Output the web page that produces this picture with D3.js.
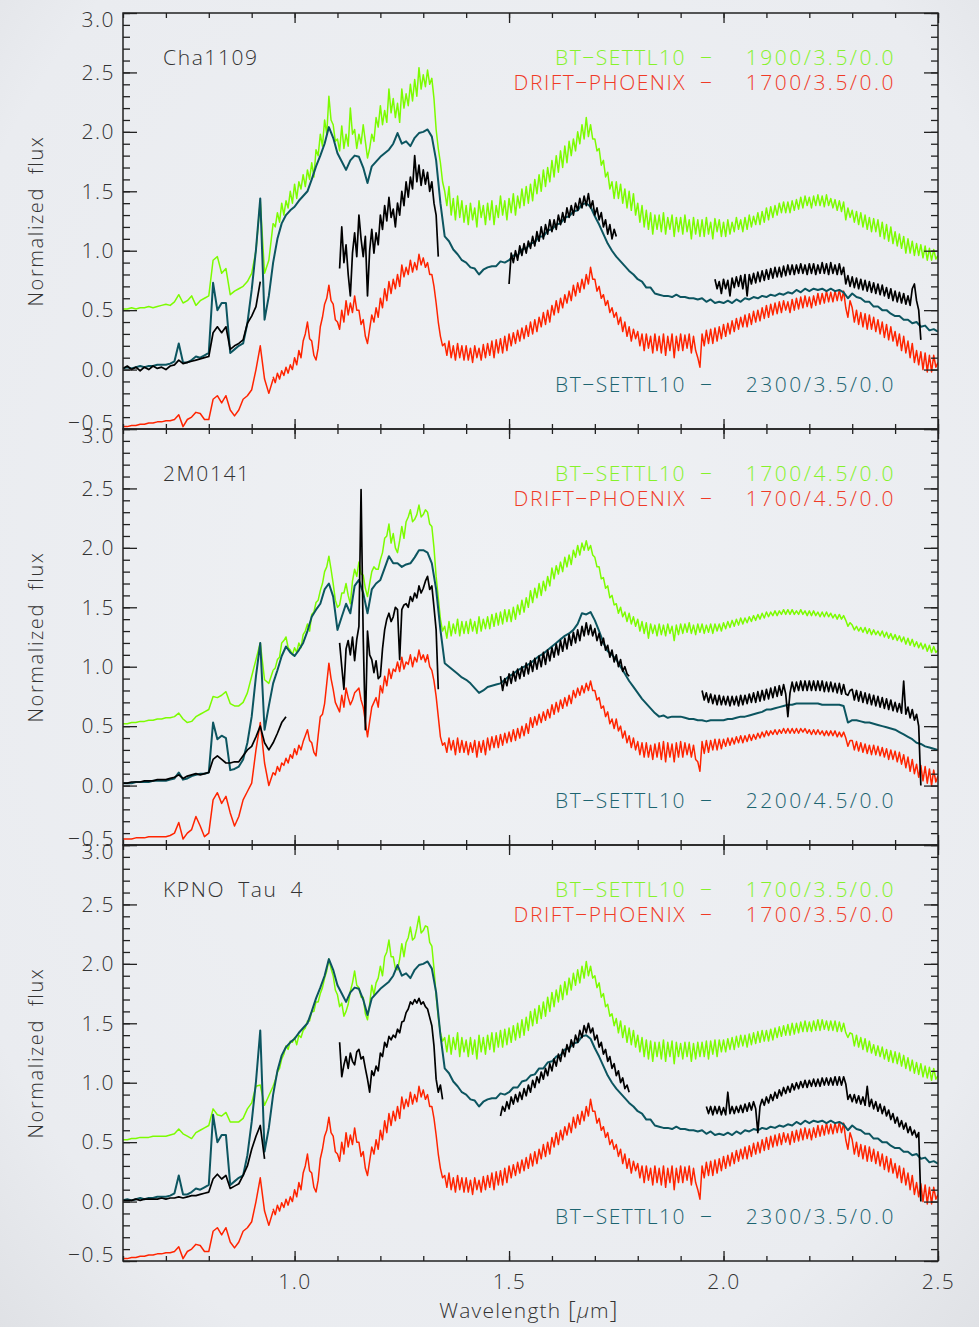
<!DOCTYPE html>
<html>
<head>
<meta charset="utf-8">
<script src="https://cdn.jsdelivr.net/npm/d3@7"></script>
<style>
  html, body { margin: 0; padding: 0; background: #eceef1; }
  svg { display: block; }
  text { font-family: "Open Sans", "DejaVu Sans", sans-serif; font-weight: 300; }
</style>
</head>
<body>
<svg id="chart" width="979" height="1327"></svg>
<script>
// ---------------------------------------------------------------
// Spectra are stored as segments: [start µm, step µm, flux, flux, ...]
// ---------------------------------------------------------------

// BT-SETTL10 1900/3.5/0.0
const btSettl1900_35 = [
  [0.60, 0.01,
   0.51,0.51,0.52,0.51,0.52,0.52,0.53,0.52,0.53,0.54,
   0.55,0.54,0.57,0.63,0.56,0.58,0.62,0.54,0.58,0.60,
   0.62,0.92,0.95,0.81,0.85,0.63,0.66,0.68,0.70,0.74,
   0.81,1.00,1.42,0.81,0.92,1.23],
  [0.95, 0.005,
   1.23,1.20,1.32,1.24,1.40,1.30,1.42,1.36,1.50,1.40,
   1.56,1.44,1.58,1.52,1.64,1.54,1.68,1.60,1.74,1.62,
   1.85,1.80,1.98,1.88,2.10,1.98,2.30,2.10,2.06,1.92,
   1.94,1.84,2.05,1.86,1.98,1.88,2.20,1.98,2.02,1.86,
   1.98,1.90,2.06,1.92,1.78,1.86,1.98,1.92,2.12,2.04,
   2.22,2.06,2.18,2.08,2.36,2.16,2.28,2.12,2.24,2.08,
   2.36,2.20,2.32,2.22,2.40,2.26,2.44,2.30,2.54,2.36,
   2.48,2.38,2.52,2.40,2.45,2.28,2.02,1.86,1.74,1.58,
   1.50,1.38,1.54,1.30,1.44,1.26,1.46,1.28,1.42,1.24,
   1.38,1.22,1.40,1.26,1.36,1.20,1.42,1.28,1.38,1.22,
   1.40,1.26,1.42,1.22,1.38,1.28,1.46,1.30,1.42,1.26,
   1.44,1.32,1.48,1.30,1.46,1.36,1.52,1.38,1.54,1.40,
   1.56,1.42,1.60,1.48,1.64,1.50,1.68,1.54,1.70,1.58,
   1.76,1.62,1.80,1.66,1.84,1.70,1.88,1.74,1.92,1.80,
   1.94,1.84,2.00,1.90,2.06,1.94,2.12,1.96,2.06,1.94,
   1.94,1.84,1.86,1.72,1.76,1.62,1.66,1.52,1.58,1.44,
   1.58,1.44,1.56,1.40,1.52,1.36,1.50,1.34,1.48,1.30,
   1.40,1.24,1.38,1.20,1.34,1.18,1.32,1.14,1.30,1.18,
   1.30,1.16,1.32,1.14,1.28,1.18,1.30,1.12,1.28,1.16,
   1.28,1.14,1.30,1.16,1.26,1.10,1.28,1.14,1.26,1.12,
   1.26,1.12,1.28,1.14,1.24,1.10,1.27,1.16,1.26,1.12,
   1.24,1.12,1.26,1.14,1.24,1.16,1.28,1.18,1.26,1.16,
   1.28,1.18,1.30,1.20,1.29,1.22,1.32,1.22,1.33,1.24,
   1.36,1.26,1.37,1.28,1.38,1.30,1.40,1.32,1.41,1.32,
   1.41,1.32,1.42,1.34,1.43,1.35,1.45,1.36,1.46,1.38,
   1.45,1.36,1.46,1.38,1.47,1.38,1.46,1.37,1.47,1.38,
   1.44,1.36,1.43,1.34,1.42,1.33,1.41,1.26,1.36,1.28,
   1.34,1.24,1.33,1.22,1.32,1.20,1.30,1.18,1.28,1.16,
   1.27,1.16,1.26,1.12,1.24,1.10,1.22,1.08,1.20,1.06,
   1.16,1.04,1.14,1.02,1.12,0.98,1.10,0.98,1.08,0.96,
   1.06,0.96,1.05,0.94,1.04,0.92,1.02,0.92,1.01,0.93,
   0.96]
];

// BT-SETTL10 1700/4.5/0.0
const btSettl1700_45 = [
  [0.60, 0.01,
   0.52,0.52,0.53,0.53,0.54,0.54,0.55,0.55,0.56,0.56,
   0.57,0.57,0.58,0.61,0.56,0.53,0.54,0.58,0.60,0.62,
   0.64,0.75,0.74,0.76,0.79,0.69,0.67,0.67,0.70,0.78,
   0.92,1.06,1.20,0.89,0.86,0.97],
  [0.95, 0.005,
   0.97,0.99,1.06,1.08,1.20,1.22,1.25,1.16,1.14,1.10,
   1.16,1.12,1.20,1.16,1.27,1.30,1.36,1.30,1.44,1.46,
   1.54,1.56,1.64,1.70,1.80,1.84,1.93,1.82,1.70,1.56,
   1.50,1.52,1.62,1.62,1.70,1.60,1.53,1.72,1.82,1.76,
   1.88,1.78,1.77,1.66,1.59,1.70,1.80,1.84,1.82,1.82,
   1.90,1.96,2.08,2.10,2.20,2.04,2.12,2.00,1.96,2.06,
   2.18,2.08,2.22,2.26,2.32,2.22,2.24,2.28,2.36,2.26,
   2.28,2.32,2.30,2.20,2.18,2.00,1.76,1.58,1.40,1.30,
   1.34,1.24,1.38,1.26,1.36,1.28,1.40,1.26,1.38,1.28,
   1.38,1.28,1.40,1.30,1.38,1.28,1.42,1.30,1.40,1.32,
   1.42,1.32,1.44,1.34,1.45,1.35,1.46,1.36,1.48,1.38,
   1.48,1.38,1.50,1.40,1.52,1.44,1.56,1.46,1.58,1.50,
   1.64,1.54,1.66,1.58,1.70,1.60,1.72,1.64,1.76,1.68,
   1.83,1.74,1.85,1.78,1.88,1.80,1.92,1.84,1.94,1.86,
   1.98,1.92,2.02,1.94,2.04,1.98,2.06,1.98,2.02,1.94,
   1.92,1.84,1.84,1.74,1.75,1.66,1.68,1.58,1.60,1.52,
   1.53,1.45,1.50,1.42,1.46,1.38,1.45,1.36,1.42,1.34,
   1.40,1.30,1.38,1.28,1.37,1.24,1.36,1.28,1.35,1.26,
   1.36,1.27,1.35,1.26,1.36,1.28,1.34,1.22,1.35,1.27,
   1.36,1.28,1.36,1.29,1.37,1.28,1.35,1.27,1.36,1.29,
   1.36,1.28,1.35,1.29,1.36,1.28,1.36,1.30,1.36,1.30,
   1.37,1.32,1.38,1.33,1.39,1.34,1.40,1.35,1.41,1.36,
   1.41,1.37,1.42,1.38,1.43,1.39,1.44,1.40,1.45,1.41,
   1.46,1.42,1.46,1.43,1.47,1.43,1.47,1.44,1.48,1.44,
   1.48,1.44,1.48,1.44,1.47,1.44,1.48,1.44,1.47,1.43,
   1.47,1.43,1.47,1.43,1.46,1.42,1.46,1.42,1.46,1.42,
   1.45,1.41,1.44,1.40,1.44,1.40,1.43,1.39,1.34,1.37,
   1.35,1.31,1.34,1.30,1.33,1.29,1.33,1.28,1.32,1.27,
   1.31,1.27,1.30,1.26,1.30,1.25,1.29,1.24,1.28,1.23,
   1.27,1.22,1.26,1.21,1.25,1.19,1.24,1.18,1.23,1.17,
   1.21,1.16,1.20,1.15,1.19,1.13,1.18,1.12,1.17,1.12,
   1.14]
];

// BT-SETTL10 1700/3.5/0.0
const btSettl1700_35 = [
  [0.60, 0.01,
   0.52,0.52,0.53,0.53,0.54,0.54,0.54,0.55,0.55,0.55,
   0.55,0.56,0.57,0.61,0.57,0.55,0.53,0.58,0.60,0.62,
   0.64,0.78,0.73,0.72,0.75,0.67,0.67,0.67,0.70,0.78,
   0.83,0.97,0.98,0.81,0.89,0.97],
  [0.95, 0.005,
   0.97,1.02,1.09,1.12,1.20,1.24,1.31,1.28,1.35,1.34,
   1.38,1.32,1.40,1.38,1.44,1.46,1.52,1.52,1.60,1.60,
   1.68,1.68,1.75,1.80,1.88,1.94,2.04,1.96,1.90,1.78,
   1.74,1.64,1.67,1.56,1.60,1.66,1.77,1.84,1.94,1.82,
   1.80,1.72,1.72,1.58,1.53,1.66,1.82,1.74,1.84,1.88,
   1.98,1.90,2.06,2.10,2.20,2.06,2.06,1.96,1.95,2.04,
   2.17,2.06,2.18,2.22,2.31,2.20,2.22,2.30,2.40,2.26,
   2.28,2.32,2.31,2.18,2.15,1.96,1.73,1.55,1.42,1.35,
   1.38,1.26,1.40,1.24,1.38,1.28,1.42,1.22,1.38,1.26,
   1.36,1.22,1.38,1.24,1.36,1.20,1.40,1.26,1.38,1.24,
   1.40,1.28,1.42,1.26,1.42,1.30,1.44,1.30,1.45,1.32,
   1.46,1.34,1.48,1.36,1.50,1.38,1.53,1.40,1.55,1.44,
   1.60,1.48,1.62,1.50,1.65,1.54,1.68,1.56,1.72,1.60,
   1.76,1.64,1.78,1.68,1.82,1.70,1.85,1.74,1.88,1.78,
   1.92,1.82,1.95,1.84,1.98,1.88,2.02,1.90,1.98,1.88,
   1.90,1.80,1.84,1.72,1.75,1.64,1.66,1.56,1.58,1.48,
   1.54,1.42,1.52,1.38,1.48,1.34,1.46,1.32,1.44,1.30,
   1.40,1.26,1.38,1.22,1.36,1.20,1.35,1.18,1.34,1.22,
   1.34,1.20,1.36,1.18,1.34,1.22,1.35,1.16,1.34,1.22,
   1.33,1.20,1.34,1.22,1.34,1.18,1.33,1.20,1.34,1.22,
   1.34,1.22,1.35,1.20,1.35,1.24,1.36,1.22,1.36,1.26,
   1.36,1.26,1.37,1.28,1.38,1.28,1.39,1.30,1.40,1.31,
   1.40,1.30,1.41,1.32,1.42,1.33,1.43,1.34,1.44,1.35,
   1.44,1.35,1.45,1.36,1.46,1.38,1.47,1.39,1.48,1.40,
   1.49,1.40,1.50,1.41,1.50,1.42,1.51,1.43,1.52,1.43,
   1.51,1.43,1.52,1.44,1.53,1.44,1.53,1.45,1.52,1.44,
   1.52,1.44,1.52,1.43,1.51,1.43,1.50,1.42,1.38,1.42,
   1.41,1.31,1.40,1.30,1.38,1.28,1.37,1.26,1.35,1.25,
   1.32,1.23,1.31,1.22,1.30,1.20,1.28,1.18,1.27,1.17,
   1.26,1.16,1.25,1.14,1.23,1.12,1.21,1.10,1.19,1.08,
   1.17,1.07,1.16,1.05,1.14,1.04,1.13,1.02,1.12,1.03,
   1.06]
];

// BT-SETTL10 2300/3.5/0.0
const btSettl2300_35 = [
  [0.60, 0.01,
   0.01,0.02,0.01,0.02,0.03,0.02,0.03,0.03,0.04,0.04,
   0.04,0.05,0.07,0.22,0.06,0.06,0.08,0.11,0.10,0.12,
   0.14,0.73,0.50,0.56,0.56,0.14,0.17,0.20,0.22,0.39,
   0.67,1.01,1.44,0.42,0.62,0.90,1.10,1.23,1.30,1.34,
   1.37,1.42,1.46,1.50,1.60,1.71,1.80,1.90,2.04,1.95,
   1.82,1.75,1.68,1.76,1.80,1.79,1.70,1.57,1.71,1.75,
   1.79,1.82,1.85,1.90,1.99,1.90,1.92,1.88,1.95,1.99,
   2.00,2.02,1.96,1.76,1.40,1.12,1.08,1.01,0.97,0.92,
   0.90,0.86,0.85,0.80,0.84,0.86,0.87,0.87,0.91,0.90,
   0.92,0.96,0.96,1.01,1.02,1.06,1.07,1.12,1.12,1.17,
   1.18,1.22,1.23,1.28,1.29,1.33,1.34,1.39,1.40,1.37,
   1.29,1.22,1.14,1.06,1.00,0.95,0.91,0.87,0.83,0.80,
   0.76,0.74,0.69,0.69,0.64,0.63,0.62,0.62,0.61,0.63,
   0.61,0.61,0.60,0.60,0.59,0.60,0.57,0.59,0.56,0.57,
   0.56,0.58,0.56,0.59,0.57,0.60,0.59,0.61,0.60,0.62,
   0.61,0.63,0.62,0.64,0.63,0.65,0.64,0.67,0.65,0.68,
   0.66,0.68,0.67,0.68,0.66,0.68,0.66,0.67,0.65,0.60,
   0.64,0.61,0.60,0.57,0.57,0.53,0.53,0.50,0.50,0.47,
   0.45,0.45,0.42,0.42,0.39,0.40,0.36,0.37,0.33,0.34,
   0.32]
];

// BT-SETTL10 2200/4.5/0.0
const btSettl2200_45 = [
  [0.60, 0.01,
   0.02,0.02,0.02,0.03,0.03,0.03,0.03,0.04,0.04,0.04,
   0.04,0.05,0.06,0.11,0.05,0.06,0.08,0.09,0.10,0.10,
   0.11,0.53,0.39,0.42,0.40,0.13,0.14,0.16,0.22,0.36,
   0.58,0.92,1.20,0.47,0.67,0.86,0.97,1.09,1.17,1.12,
   1.09,1.14,1.20,1.30,1.42,1.48,1.53,1.65,1.70,1.59,
   1.31,1.42,1.53,1.45,1.68,1.73,1.62,1.45,1.65,1.70,
   1.73,1.83,1.93,1.87,1.87,1.84,1.86,1.87,1.92,1.98,
   1.98,1.96,1.87,1.65,1.31,1.03,1.00,0.97,0.94,0.91,
   0.89,0.86,0.82,0.78,0.80,0.83,0.84,0.85,0.86,0.89,
   0.92,0.94,0.97,0.99,1.01,1.03,1.06,1.09,1.11,1.14,
   1.17,1.20,1.23,1.26,1.28,1.31,1.36,1.45,1.44,1.46,
   1.39,1.30,1.20,1.13,1.10,1.06,1.00,0.94,0.88,0.83,
   0.78,0.73,0.69,0.65,0.61,0.58,0.59,0.57,0.58,0.58,
   0.58,0.57,0.56,0.56,0.55,0.55,0.54,0.55,0.55,0.55,
   0.55,0.56,0.56,0.57,0.58,0.58,0.59,0.60,0.61,0.62,
   0.64,0.64,0.65,0.66,0.67,0.68,0.68,0.69,0.69,0.69,
   0.69,0.69,0.69,0.68,0.68,0.68,0.68,0.68,0.67,0.53,
   0.55,0.55,0.54,0.53,0.53,0.52,0.51,0.50,0.49,0.48,
   0.47,0.45,0.43,0.41,0.39,0.36,0.35,0.33,0.32,0.31,
   0.30]
];

// DRIFT-PHOENIX 1700/3.5/0.0
const driftPhoenix1700_35 = [
  [0.60, 0.01,
   -0.48,-0.48,-0.47,-0.47,-0.46,-0.46,-0.45,-0.45,-0.44,-0.44,
   -0.43,-0.43,-0.42,-0.38,-0.48,-0.42,-0.40,-0.36,-0.37,-0.42,
   -0.42,-0.25,-0.22,-0.28,-0.22,-0.34,-0.39,-0.34,-0.25,-0.22,
   -0.17,0.00,0.20,-0.08,-0.20,-0.08],
  [0.95, 0.005,
   -0.06,-0.11,-0.03,-0.08,-0.01,-0.05,0.02,-0.03,0.04,0.00,
   0.10,0.04,0.16,0.10,0.24,0.30,0.40,0.26,0.24,0.12,
   0.08,0.18,0.36,0.44,0.55,0.60,0.71,0.58,0.55,0.42,
   0.40,0.34,0.50,0.40,0.58,0.46,0.56,0.48,0.62,0.50,
   0.50,0.38,0.42,0.28,0.22,0.34,0.46,0.40,0.52,0.44,
   0.60,0.52,0.68,0.58,0.74,0.64,0.76,0.68,0.80,0.70,
   0.88,0.78,0.86,0.80,0.92,0.82,0.90,0.84,0.97,0.88,
   0.94,0.86,0.90,0.80,0.80,0.70,0.56,0.40,0.28,0.20,
   0.22,0.12,0.24,0.10,0.20,0.08,0.22,0.10,0.20,0.08,
   0.20,0.08,0.18,0.06,0.20,0.10,0.18,0.08,0.21,0.10,
   0.22,0.12,0.24,0.10,0.25,0.14,0.26,0.14,0.28,0.16,
   0.30,0.20,0.31,0.22,0.33,0.24,0.35,0.26,0.37,0.28,
   0.40,0.30,0.42,0.32,0.44,0.36,0.48,0.38,0.50,0.40,
   0.54,0.46,0.58,0.48,0.60,0.52,0.63,0.56,0.66,0.58,
   0.71,0.62,0.73,0.65,0.76,0.68,0.80,0.72,0.86,0.76,
   0.76,0.66,0.70,0.60,0.63,0.54,0.58,0.48,0.52,0.44,
   0.48,0.38,0.44,0.32,0.40,0.28,0.36,0.24,0.34,0.26,
   0.32,0.20,0.30,0.16,0.30,0.18,0.28,0.14,0.30,0.16,
   0.28,0.14,0.30,0.12,0.28,0.16,0.30,0.10,0.28,0.16,
   0.30,0.16,0.29,0.18,0.30,0.14,0.28,0.16,0.10,0.02,
   0.30,0.20,0.33,0.22,0.34,0.22,0.35,0.24,0.36,0.26,
   0.38,0.28,0.39,0.30,0.41,0.32,0.43,0.34,0.44,0.36,
   0.46,0.36,0.47,0.38,0.49,0.40,0.50,0.41,0.52,0.43,
   0.54,0.44,0.55,0.46,0.56,0.47,0.57,0.48,0.58,0.50,
   0.57,0.48,0.59,0.50,0.60,0.51,0.61,0.52,0.62,0.53,
   0.61,0.52,0.62,0.54,0.64,0.55,0.64,0.56,0.66,0.57,
   0.65,0.57,0.66,0.58,0.67,0.58,0.66,0.52,0.44,0.58,
   0.52,0.40,0.50,0.38,0.48,0.36,0.47,0.34,0.46,0.34,
   0.44,0.32,0.42,0.30,0.40,0.27,0.38,0.25,0.36,0.24,
   0.32,0.20,0.30,0.16,0.28,0.14,0.24,0.10,0.22,0.06,
   0.16,0.04,0.15,0.00,0.14,-0.02,0.12,-0.02,0.12,0.02,
   0.06]
];

// DRIFT-PHOENIX 1700/4.5/0.0
const driftPhoenix1700_45 = [
  [0.60, 0.01,
   -0.45,-0.45,-0.45,-0.44,-0.44,-0.44,-0.43,-0.43,-0.43,-0.43,
   -0.43,-0.42,-0.40,-0.31,-0.45,-0.40,-0.37,-0.26,-0.34,-0.43,
   -0.40,-0.12,-0.06,-0.15,-0.09,-0.23,-0.34,-0.26,-0.12,-0.05,
   0.02,0.30,0.53,0.19,0.00,0.11],
  [0.95, 0.005,
   0.11,0.09,0.16,0.12,0.19,0.17,0.23,0.19,0.26,0.23,
   0.31,0.26,0.34,0.30,0.37,0.42,0.47,0.38,0.36,0.28,
   0.25,0.42,0.58,0.60,0.69,0.86,1.03,0.90,0.81,0.70,
   0.66,0.62,0.76,0.66,0.82,0.74,0.68,0.72,0.78,0.80,
   0.82,0.72,0.66,0.54,0.41,0.54,0.66,0.70,0.74,0.66,
   0.84,0.78,0.92,0.84,0.98,0.90,0.98,0.96,1.04,0.96,
   1.08,0.98,1.04,1.02,1.10,1.00,1.08,1.04,1.14,1.06,
   1.10,1.04,1.10,1.00,0.97,0.88,0.75,0.58,0.41,0.34,
   0.36,0.28,0.40,0.30,0.38,0.26,0.40,0.28,0.38,0.28,
   0.37,0.26,0.36,0.28,0.38,0.24,0.37,0.28,0.38,0.26,
   0.40,0.30,0.41,0.32,0.42,0.32,0.43,0.34,0.44,0.36,
   0.45,0.37,0.47,0.38,0.48,0.40,0.50,0.42,0.52,0.44,
   0.57,0.49,0.58,0.51,0.60,0.53,0.62,0.55,0.64,0.57,
   0.68,0.60,0.70,0.62,0.72,0.65,0.74,0.67,0.76,0.69,
   0.80,0.74,0.82,0.76,0.84,0.78,0.86,0.80,0.88,0.80,
   0.80,0.72,0.74,0.65,0.67,0.58,0.62,0.52,0.56,0.48,
   0.56,0.46,0.50,0.40,0.46,0.36,0.42,0.32,0.40,0.30,
   0.37,0.26,0.36,0.24,0.36,0.24,0.34,0.22,0.35,0.24,
   0.36,0.22,0.37,0.20,0.36,0.24,0.35,0.20,0.36,0.24,
   0.37,0.24,0.36,0.26,0.35,0.24,0.34,0.22,0.20,0.12,
   0.37,0.27,0.38,0.28,0.38,0.30,0.39,0.30,0.39,0.31,
   0.39,0.33,0.40,0.34,0.40,0.35,0.41,0.36,0.42,0.36,
   0.42,0.37,0.43,0.38,0.43,0.39,0.44,0.40,0.45,0.41,
   0.46,0.42,0.46,0.43,0.47,0.43,0.47,0.44,0.48,0.44,
   0.48,0.44,0.48,0.44,0.48,0.44,0.48,0.45,0.48,0.44,
   0.47,0.43,0.47,0.43,0.47,0.43,0.46,0.42,0.46,0.42,
   0.46,0.42,0.46,0.41,0.45,0.41,0.45,0.40,0.33,0.38,
   0.38,0.30,0.37,0.29,0.36,0.28,0.35,0.27,0.34,0.26,
   0.34,0.26,0.33,0.25,0.32,0.24,0.31,0.22,0.30,0.22,
   0.29,0.20,0.28,0.18,0.26,0.15,0.24,0.12,0.22,0.10,
   0.18,0.07,0.17,0.04,0.16,0.02,0.14,0.00,0.13,0.03,
   0.08]
];

// ---------------------------------------------------------------
// Observed spectra, one segment per band
// ---------------------------------------------------------------
const cha1109Spectrum = [
  [0.60, 0.01,
   0.01,0.03,0.00,0.02,-0.01,0.02,0.00,0.03,0.01,0.02,
   0.00,0.03,0.04,0.08,0.05,0.06,0.07,0.08,0.09,0.10,
   0.11,0.31,0.36,0.31,0.36,0.17,0.20,0.22,0.25,0.39,
   0.45,0.53,0.74],
  [1.105, 0.005,
   0.85,1.20,0.90,1.05,0.80,0.62,0.98,1.15,0.95,1.30,
   1.10,0.95,1.12,0.62,1.00,1.18,0.98,1.15,1.05,1.30,
   1.18,1.38,1.25,1.45,1.28,1.35,1.20,1.40,1.30,1.50,
   1.38,1.58,1.45,1.62,1.52,1.80,1.58,1.72,1.55,1.68,
   1.56,1.66,1.50,1.58,1.40,1.30,0.95],
  [1.50, 0.005,
   0.72,0.98,0.90,1.00,0.92,1.04,0.96,1.06,0.98,1.08,
   1.02,1.12,1.04,1.16,1.08,1.20,1.10,1.22,1.14,1.26,
   1.16,1.26,1.18,1.30,1.22,1.32,1.24,1.36,1.28,1.38,
   1.30,1.40,1.34,1.44,1.36,1.46,1.38,1.48,1.36,1.42,
   1.30,1.36,1.26,1.32,1.20,1.26,1.14,1.22,1.10,1.18,
   1.12],
  [1.98, 0.005,
   0.76,0.68,0.74,0.64,0.76,0.68,0.75,0.62,0.77,0.69,
   0.78,0.70,0.79,0.68,0.80,0.62,0.80,0.72,0.81,0.73,
   0.82,0.74,0.83,0.75,0.84,0.76,0.85,0.77,0.86,0.78,
   0.86,0.78,0.87,0.79,0.88,0.80,0.88,0.80,0.88,0.81,
   0.89,0.81,0.88,0.80,0.89,0.81,0.89,0.80,0.88,0.81,
   0.90,0.81,0.89,0.80,0.90,0.81,0.88,0.80,0.89,0.80,
   0.86,0.72,0.79,0.70,0.78,0.69,0.77,0.68,0.76,0.67,
   0.75,0.66,0.74,0.65,0.73,0.64,0.72,0.63,0.71,0.62,
   0.69,0.60,0.68,0.58,0.66,0.57,0.65,0.56,0.64,0.55,
   0.62,0.54,0.68,0.72,0.58,0.50,0.25]
];

const m0141Spectrum = [
  [0.60, 0.01,
   0.02,0.02,0.03,0.03,0.03,0.04,0.04,0.04,0.05,0.05,
   0.05,0.06,0.07,0.09,0.06,0.08,0.09,0.10,0.09,0.10,
   0.11,0.22,0.25,0.22,0.19,0.19,0.20,0.20,0.25,0.30,
   0.33,0.41,0.50,0.36,0.30,0.36,0.44,0.53,0.58],
  [1.105, 0.005,
   1.20,1.00,0.81,1.15,1.22,1.10,1.25,1.05,1.23,1.34,
   2.49,1.25,0.47,1.30,1.10,1.06,0.95,1.05,0.90,0.92,
   1.15,1.31,1.40,1.45,1.38,1.42,1.50,1.48,1.06,1.48,
   1.52,1.53,1.50,1.59,1.55,1.62,1.58,1.68,1.62,1.66,
   1.72,1.76,1.65,1.68,1.50,1.31,0.81],
  [1.48, 0.005,
   0.92,0.80,0.90,0.84,0.94,0.86,0.96,0.88,0.98,0.90,
   1.00,0.92,1.03,0.94,1.05,0.96,1.07,0.98,1.09,1.00,
   1.12,1.02,1.14,1.05,1.16,1.08,1.19,1.10,1.22,1.13,
   1.24,1.15,1.27,1.18,1.29,1.20,1.31,1.22,1.34,1.26,
   1.37,1.27,1.35,1.26,1.32,1.22,1.28,1.18,1.24,1.14,
   1.18,1.08,1.14,1.04,1.10,1.00,1.06,0.96,1.00,0.94,
   0.92],
  [1.95, 0.005,
   0.80,0.72,0.78,0.70,0.77,0.69,0.76,0.68,0.76,0.68,
   0.75,0.68,0.75,0.67,0.75,0.68,0.75,0.67,0.76,0.68,
   0.76,0.69,0.77,0.70,0.78,0.70,0.79,0.71,0.80,0.72,
   0.81,0.73,0.82,0.74,0.83,0.75,0.84,0.76,0.85,0.77,
   0.58,0.78,0.87,0.79,0.87,0.80,0.88,0.80,0.88,0.80,
   0.88,0.80,0.88,0.80,0.88,0.80,0.88,0.79,0.87,0.79,
   0.87,0.79,0.86,0.78,0.86,0.77,0.85,0.77,0.76,0.80,
   0.81,0.72,0.80,0.71,0.79,0.70,0.78,0.69,0.77,0.68,
   0.76,0.67,0.75,0.66,0.74,0.65,0.73,0.64,0.72,0.63,
   0.70,0.62,0.69,0.61,0.88,0.60,0.66,0.57,0.64,0.55,
   0.60,0.50,0.00]
];

const kpnoTau4Spectrum = [
  [0.60, 0.01,
   0.01,0.01,0.01,0.02,0.01,0.02,0.02,0.02,0.02,0.03,
   0.02,0.03,0.03,0.04,0.03,0.04,0.05,0.05,0.06,0.07,
   0.08,0.19,0.23,0.19,0.22,0.11,0.13,0.15,0.22,0.30,
   0.44,0.55,0.64,0.36],
  [1.105, 0.005,
   1.34,1.05,1.15,1.22,1.12,1.25,1.18,1.15,1.26,1.28,
   1.20,1.22,1.12,1.03,0.92,1.10,1.06,1.14,1.10,1.25,
   1.22,1.34,1.30,1.39,1.36,1.40,1.38,1.45,1.42,1.51,
   1.52,1.59,1.62,1.68,1.66,1.70,1.67,1.71,1.66,1.68,
   1.64,1.62,1.55,1.48,1.31,1.03,0.92,0.98,0.86],
  [1.48, 0.005,
   0.72,0.80,0.76,0.84,0.78,0.88,0.82,0.90,0.84,0.92,
   0.86,0.95,0.89,0.98,0.92,1.02,0.96,1.05,1.00,1.09,
   1.03,1.12,1.06,1.16,1.10,1.20,1.14,1.24,1.18,1.28,
   1.22,1.32,1.26,1.36,1.30,1.40,1.34,1.44,1.38,1.48,
   1.42,1.50,1.42,1.46,1.36,1.40,1.30,1.34,1.24,1.28,
   1.18,1.22,1.12,1.16,1.06,1.10,1.00,1.04,0.95,0.98,
   0.92],
  [1.96, 0.005,
   0.80,0.74,0.80,0.73,0.80,0.74,0.80,0.73,0.79,0.73,
   0.92,0.74,0.80,0.74,0.80,0.75,0.81,0.75,0.82,0.76,
   0.83,0.77,0.84,0.78,0.58,0.80,0.86,0.81,0.88,0.83,
   0.90,0.85,0.92,0.87,0.94,0.89,0.96,0.91,0.97,0.92,
   0.99,0.94,1.00,0.95,1.01,0.96,1.02,0.96,1.02,0.97,
   1.03,0.97,1.03,0.97,1.04,0.98,1.04,0.98,1.04,0.98,
   1.05,0.98,1.05,0.98,1.05,0.99,0.86,0.90,0.84,0.90,
   0.83,0.89,0.82,0.88,0.81,0.97,0.80,0.86,0.78,0.84,
   0.76,0.82,0.74,0.80,0.72,0.77,0.69,0.74,0.66,0.71,
   0.63,0.68,0.61,0.66,0.58,0.63,0.56,0.60,0.54,0.58,
   0.00]
];

// Panel labels
const objectNames = ["Cha1109", "2M0141", "KPNO Tau 4"];
const greenModelLabels = ["1900/3.5/0.0", "1700/4.5/0.0", "1700/3.5/0.0"];
const redModelLabels = ["1700/3.5/0.0", "1700/4.5/0.0", "1700/3.5/0.0"];
const tealModelLabels = ["2300/3.5/0.0", "2200/4.5/0.0", "2300/3.5/0.0"];

// Axis ticks
const xMajorTicks = [1.0, 1.5, 2.0, 2.5];
const yMajorTicks = [-0.5, 0.0, 0.5, 1.0, 1.5, 2.0, 2.5, 3.0];

const panels = [
  { name: objectNames[0], green: btSettl1900_35, teal: btSettl2300_35, red: driftPhoenix1700_35,
    observed: cha1109Spectrum,
    greenLabel: greenModelLabels[0], redLabel: redModelLabels[0], tealLabel: tealModelLabels[0] },
  { name: objectNames[1], green: btSettl1700_45, teal: btSettl2200_45, red: driftPhoenix1700_45,
    observed: m0141Spectrum,
    greenLabel: greenModelLabels[1], redLabel: redModelLabels[1], tealLabel: tealModelLabels[1] },
  { name: objectNames[2], green: btSettl1700_35, teal: btSettl2300_35, red: driftPhoenix1700_35,
    observed: kpnoTau4Spectrum,
    greenLabel: greenModelLabels[2], redLabel: redModelLabels[2], tealLabel: tealModelLabels[2] }
];

// ---------------------------------------------------------------
// Layout and styles
// ---------------------------------------------------------------
const W = 979, H = 1327;
const left = 123, right = 938;
const panelTops = [13, 429, 845];
const panelH = 416;

const colors = {
  green: "#7cfc00", teal: "#0c5560", red: "#ff2400", black: "#000000",
  greenText: "#85f22a", redText: "#f03a26", tealText: "#1c6470", text: "#333333"
};

const svg = d3.select("#chart");

// soft background shading
const defs = svg.append("defs");
const grad = defs.append("radialGradient").attr("id", "bg")
  .attr("cx", "50%").attr("cy", "45%").attr("r", "75%");
grad.append("stop").attr("offset", "0%").attr("stop-color", "#eff1f4");
grad.append("stop").attr("offset", "80%").attr("stop-color", "#eaecf0");
grad.append("stop").attr("offset", "100%").attr("stop-color", "#dfe1e5");
svg.append("rect").attr("width", W).attr("height", H).attr("fill", "url(#bg)");

const x = d3.scaleLinear().domain([0.6, 2.5]).range([left, right]);
const xMinor = d3.range(6, 26).map(v => v / 10);
const yMinor = d3.range(-5, 31).map(v => v / 10);
const fmt = d3.format(".1f");

panels.forEach((p, pi) => {
  const top = panelTops[pi];
  const y = d3.scaleLinear().domain([-0.5, 3.0]).range([top + panelH, top]);
  const g = svg.append("g");

  const clipId = "clip" + pi;
  defs.append("clipPath").attr("id", clipId)
    .append("rect").attr("x", left).attr("y", top).attr("width", right - left).attr("height", panelH);

  const plot = g.append("g").attr("clip-path", `url(#${clipId})`);

  // each segment: [start, step, ...flux]
  const drawSpectrum = (segments, color, width) => segments.forEach(seg => {
    const start = seg[0], step = seg[1], vals = seg.slice(2);
    const line = d3.line().x((d, i) => x(start + i * step)).y(d => y(d));
    plot.append("path").attr("d", line(vals)).attr("fill", "none")
      .attr("stroke", color).attr("stroke-width", width).attr("stroke-linejoin", "round");
  });

  drawSpectrum(p.green, colors.green, 1.5);
  drawSpectrum(p.red, colors.red, 1.5);
  drawSpectrum(p.teal, colors.teal, 2.0);
  drawSpectrum(p.observed, colors.black, 1.7);

  // axes with inward ticks
  const axisStyle = sel => {
    sel.select(".domain").remove();
    sel.selectAll("line").attr("stroke", "#222").attr("stroke-width", 1.3);
  };

  g.append("g").attr("transform", `translate(${left},0)`)
    .call(d3.axisLeft(y).tickValues(yMinor).tickSize(-7).tickFormat(""))
    .call(axisStyle);
  g.append("g").attr("transform", `translate(${right},0)`)
    .call(d3.axisRight(y).tickValues(yMinor).tickSize(-7).tickFormat(""))
    .call(axisStyle);
  const yl = g.append("g").attr("transform", `translate(${left},0)`)
    .call(d3.axisLeft(y).tickValues(yMajorTicks).tickSize(-14).tickPadding(8).tickFormat(fmt))
    .call(axisStyle);
  yl.selectAll("text").attr("font-size", 21).attr("fill", colors.text)
    .attr("letter-spacing", 1.5)
    .attr("dy", d => d === 3.0 ? "0.66em" : d === -0.5 ? "0.0em" : "0.32em");
  g.append("g").attr("transform", `translate(${right},0)`)
    .call(d3.axisRight(y).tickValues(yMajorTicks).tickSize(-14).tickFormat(""))
    .call(axisStyle);

  g.append("g").attr("transform", `translate(0,${top})`)
    .call(d3.axisTop(x).tickValues(xMinor).tickSize(-5).tickFormat(""))
    .call(axisStyle);
  g.append("g").attr("transform", `translate(0,${top})`)
    .call(d3.axisTop(x).tickValues(xMajorTicks).tickSize(-10).tickFormat(""))
    .call(axisStyle);
  g.append("g").attr("transform", `translate(0,${top + panelH})`)
    .call(d3.axisBottom(x).tickValues(xMinor).tickSize(-5).tickFormat(""))
    .call(axisStyle);
  const xb = g.append("g").attr("transform", `translate(0,${top + panelH})`)
    .call(d3.axisBottom(x).tickValues(xMajorTicks).tickSize(-10).tickPadding(13)
      .tickFormat(pi === 2 ? fmt : ""))
    .call(axisStyle);
  xb.selectAll("text").attr("font-size", 21).attr("fill", colors.text).attr("letter-spacing", 1.5);

  // frame
  g.append("rect").attr("x", left).attr("y", top).attr("width", right - left).attr("height", panelH)
    .attr("fill", "none").attr("stroke", "#222").attr("stroke-width", 1.5);

  // y title
  g.append("text")
    .attr("transform", `translate(43,${top + panelH / 2}) rotate(-90)`)
    .attr("text-anchor", "middle").attr("font-size", 20).attr("fill", colors.text)
    .attr("letter-spacing", 1.6).attr("word-spacing", 6)
    .text("Normalized flux");

  // object name
  g.append("text").attr("x", 163).attr("y", top + 52)
    .attr("font-size", 21).attr("fill", colors.text).attr("letter-spacing", 1.6)
    .attr("word-spacing", 6)
    .text(p.name);

  // model legends
  const legend = (yy, model, params, color) => {
    g.append("text").attr("x", 686).attr("y", yy).attr("text-anchor", "end")
      .attr("font-size", 21).attr("fill", color).attr("letter-spacing", 1.5).text(model);
    g.append("text").attr("x", 706).attr("y", yy).attr("text-anchor", "middle")
      .attr("font-size", 21).attr("fill", color).text("−");
    g.append("text").attr("x", 896).attr("y", yy).attr("text-anchor", "end")
      .attr("font-size", 21).attr("fill", color).attr("letter-spacing", 2.5).text(params);
  };
  legend(top + 52, "BT−SETTL10", p.greenLabel, colors.greenText);
  legend(top + 77, "DRIFT−PHOENIX", p.redLabel, colors.redText);
  legend(top + 379, "BT−SETTL10", p.tealLabel, colors.tealText);
});

// x title
const xt = svg.append("text").attr("x", 529).attr("y", 1318).attr("text-anchor", "middle")
  .attr("font-size", 21).attr("fill", colors.text).attr("letter-spacing", 1.2);
xt.append("tspan").text("Wavelength ");
xt.append("tspan").attr("font-size", 24).text("[");
xt.append("tspan").attr("font-style", "italic").text("μ");
xt.append("tspan").text("m");
xt.append("tspan").attr("font-size", 24).text("]");
</script>
</body>
</html>
